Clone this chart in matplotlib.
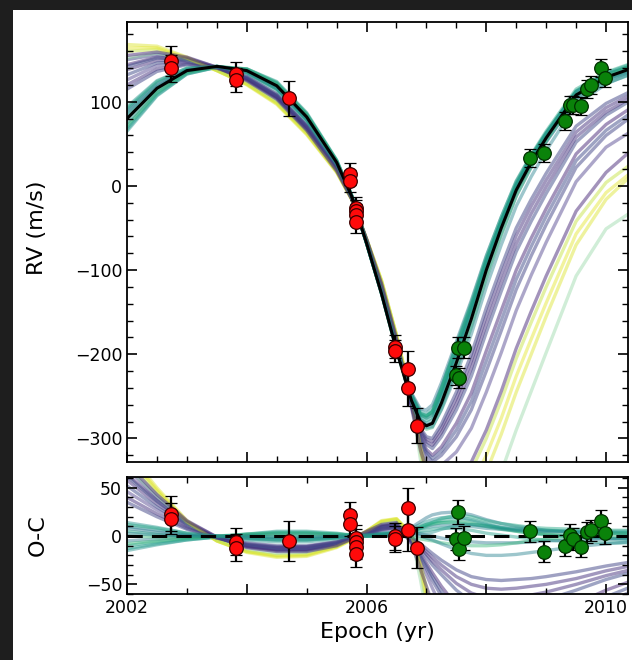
import numpy as np
import matplotlib
matplotlib.use("Agg")
import matplotlib.pyplot as plt
from matplotlib.ticker import MultipleLocator, FuncFormatter
from matplotlib.patches import Rectangle

epochs = [2002.0, 2002.5, 2003.0, 2003.5, 2004.0, 2004.5, 2005.0, 2005.5, 2005.75,
          2006.0, 2006.25, 2006.5, 2006.75, 2006.9, 2007.0, 2007.1, 2007.25, 2007.5,
          2007.75, 2008.0, 2008.25, 2008.5, 2008.75, 2009.0, 2009.5, 2010.0, 2010.4]

# best fit orbit (black line), m/s
model_rv = [80, 116, 137, 142, 137, 119, 82, 28, -12,
            -68, -128, -195, -255, -280, -285, -282, -258, -210,
            -158, -100, -50, -5, 28, 57, 108, 129, 139]

# posterior draws, stored as residuals (O-C) against the best fit
teal_oc = [
    [-15, -9, -4, -1, 2, 4, 4, 2, 1, 0, 1, 3, 8, 12, 15, 17, 19, 20, 17, 13, 9, 6, 4, 2, -1, -3, -4],
    [-10, -6, -3, -1, 1, 3, 3, 2, 1, 0, 1, 2, 6, 9, 12, 14, 16, 18, 16, 12, 8, 5, 3, 1, -1, -2, -3],
    [-5, -3, -1, 0, 1, 2, 2, 1, 0, 0, 1, 3, 9, 15, 19, 22, 24, 25, 22, 17, 13, 10, 8, 6, 4, 3, 2],
    [0, -1, -1, 0, 0, 0, 0, 0, 0, 0, 1, 2, 5, 8, 10, 12, 14, 15, 13, 10, 7, 5, 3, 2, 0, -1, -1],
    [5, 2, 0, -1, -1, -2, -2, -1, 0, 1, 2, 3, 6, 10, 12, 13, 14, 14, 12, 10, 8, 7, 6, 5, 4, 3, 3],
    [10, 6, 2, 0, -3, -4, -4, -2, 0, 1, 3, 4, 6, 8, 9, 10, 11, 11, 10, 8, 7, 6, 6, 5, 4, 4, 3],
    [14, 9, 3, -1, -4, -6, -6, -3, -1, 1, 3, 4, 4, 3, 3, 4, 7, 11, 12, 11, 9, 8, 7, 6, 5, 5, 5],
    [-13, -8, -4, -1, 2, 5, 5, 3, 1, 0, 0, 1, 3, 5, 6, 7, 8, 8, 6, 3, 1, -1, -3, -4, -6, -7, -7],
    [8, 4, 1, -1, -2, -3, -3, -1, 0, 1, 2, 3, 3, 2, 1, 0, -2, -5, -6, -7, -7, -7, -6, -5, -4, -3, -2],
    [-8, -5, -2, 0, 2, 3, 3, 2, 1, 0, 0, 0, -1, -3, -4, -5, -7, -9, -10, -10, -9, -7, -5, -3, 0, 2, 3],
    [12, 8, 3, 0, -2, -4, -4, -2, 0, 1, 2, 3, 5, 8, 11, 14, 18, 22, 20, 16, 13, 11, 9, 8, 7, 6, 6],
    [3, 1, 0, 0, 0, -1, -1, 0, 0, 0, 0, 1, 2, 0, -2, -4, -8, -14, -18, -20, -20, -19, -17, -15, -11, -8, -6],
]
purple_oc = [
    [58, 33, 12, -2, -10, -13, -13, -8, -3, 3, 9, 11, -2, -10, -16, -22, -30, -42, -50, -54, -55, -54, -52, -50, -44, -36, -31],
    [52, 30, 11, -2, -9, -12, -12, -7, -2, 3, 8, 10, -4, -14, -22, -30, -40, -56, -68, -74, -75, -73, -70, -66, -56, -45, -38],
    [64, 37, 14, -2, -11, -14, -14, -9, -3, 4, 10, 12, -5, -18, -28, -38, -52, -72, -88, -96, -98, -95, -90, -84, -70, -56, -47],
    [70, 40, 15, -1, -11, -15, -15, -9, -3, 4, 11, 13, -6, -22, -34, -46, -62, -88, -108, -120, -122, -118, -111, -103, -86, -69, -58],
    [46, 27, 10, -2, -9, -12, -11, -7, -2, 3, 7, 9, -6, -26, -40, -54, -74, -106, -130, -145, -148, -143, -134, -124, -103, -83, -75],
    [40, 23, 8, -2, -8, -11, -11, -6, -2, 2, 7, 9, -2, -12, -19, -26, -35, -49, -59, -64, -65, -64, -61, -58, -50, -41, -35],
    [62, 36, 13, -2, -10, -14, -14, -8, -3, 4, 10, 12, -5, -20, -31, -42, -57, -80, -98, -108, -110, -106, -100, -93, -78, -63, -53],
    [75, 43, 16, -1, -12, -16, -16, -10, -3, 5, 12, 14, -8, -34, -52, -70, -96, -138, -170, -190, -194, -188, -177, -164, -138, -113, -98],
    [35, 20, 7, -2, -7, -10, -10, -6, -2, 2, 6, 8, -1, -8, -13, -18, -25, -35, -42, -45, -46, -45, -44, -42, -37, -31, -27],
]
yellow_oc = [
    [88, 50, 16, -5, -17, -22, -21, -12, -4, 5, 16, 18, 2, -35, -70, -95, -130, -180, -215, -240, -245, -240, -228, -212, -178, -145, -128],
    [80, 46, 14, -5, -16, -20, -19, -11, -3, 5, 15, 17, 3, -25, -55, -75, -105, -150, -180, -200, -205, -200, -190, -177, -150, -125, -114],
    [72, 42, 13, -4, -14, -18, -17, -10, -3, 4, 13, 15, 0, -45, -80, -110, -150, -210, -250, -280, -290, -285, -272, -255, -215, -180, -171],
    [84, 48, 15, -5, -16, -21, -20, -11, -4, 5, 15, 18, 1, -30, -62, -85, -118, -165, -198, -220, -226, -221, -210, -196, -165, -137, -124],
]

# first data set (red)
red_t = [2002.73, 2002.73, 2003.82, 2003.82, 2004.70, 2005.72, 2005.72, 2005.83, 2005.83,
         2005.83, 2005.83, 2006.48, 2006.48, 2006.70, 2006.70, 2006.85]
red_rv = [148, 140, 133, 126, 104, 14, 6, -26, -30, -34, -43, -191, -196, -217, -240, -285]
red_oc = [23, 18, -6, -12, -5, 22, 13, -2, -6, -11, -19, 0, -3, 29, 6, -12]
red_err = [18, 16, 14, 14, 21, 13, 13, 13, 13, 13, 13, 14, 13, 21, 21, 21]

# second data set (green)
green_t = [2007.52, 2007.50, 2007.55, 2007.63, 2008.73, 2008.97, 2009.32, 2009.40, 2009.45,
           2009.58, 2009.68, 2009.75, 2009.92, 2009.98]
green_rv = [-192, -225, -228, -192, 33, 39, 77, 96, 96, 95, 115, 120, 140, 128]
green_oc = [25, -3, -13, -2, 5, -16, -10, 1, -3, -11, 4, 6, 16, 3]
green_err = [12, 11, 12, 12, 11, 11, 11, 11, 11, 11, 11, 11, 11, 11]

teal_cols = ["#21918c", "#1f9e89", "#2a788e", "#35b779", "#22a884", "#26828e"]
purple_cols = ["#46337e", "#3e4a89", "#482878", "#414487", "#5b4f95"]
yellow_cols = ["#d8e219", "#bddf26", "#8fd5a0", "#e2e418"]

t = np.array(epochs)
model = np.array(model_rv)

fig = plt.figure(figsize=(6.32, 6.60), dpi=100)
fig.patch.set_facecolor("#1e1e1e")
fig.patches.append(Rectangle((13 / 632, 0), 1, 1 - 10 / 660, transform=fig.transFigure,
                             facecolor="white", edgecolor="none", zorder=-10))

ax1 = fig.add_axes([0.201, 0.300, 0.793, 0.667])
ax2 = fig.add_axes([0.201, 0.100, 0.793, 0.177])

draws = []
for i, oc in enumerate(teal_oc):
    draws.append((oc, teal_cols[i % len(teal_cols)], 0.45))
for i, oc in enumerate(purple_oc):
    draws.append((oc, purple_cols[i % len(purple_cols)], 0.5))
for i, oc in enumerate(yellow_oc):
    draws.append((oc, yellow_cols[i], 0.42))
# mix the draw order so no family sits fully on top
order = [0, 12, 1, 21, 13, 2, 14, 3, 22, 15, 4, 16, 5, 23, 17, 6, 18, 7, 24, 19, 8, 20, 9, 10, 11]
for k in order:
    oc, col, a = draws[k]
    oc = np.array(oc)
    ax1.plot(t, model + oc, color=col, lw=2.4, alpha=a, zorder=1)
    ax2.plot(t, oc, color=col, lw=2.4, alpha=a, zorder=1)

ax1.plot(t, model, color="k", lw=2.2, zorder=3)
ax2.axhline(0, color="k", lw=2.2, ls=(0, (5, 3)), zorder=3)

ebkw = dict(fmt="o", ms=9.8, ecolor="k", elinewidth=1.6, capsize=4, capthick=1.6,
            mec="#3a0000", mew=0.9, zorder=4)
ax1.errorbar(red_t, red_rv, yerr=red_err, mfc="#ff0a0a", **ebkw)
ax2.errorbar(red_t, red_oc, yerr=red_err, mfc="#ff0a0a", **ebkw)
ebkw["mec"] = "#003000"
ax1.errorbar(green_t, green_rv, yerr=green_err, mfc="#0a820a", **ebkw)
ax2.errorbar(green_t, green_oc, yerr=green_err, mfc="#0a820a", **ebkw)

for ax in (ax1, ax2):
    ax.set_xlim(2002, 2010.37)
    ax.xaxis.set_major_locator(MultipleLocator(2))
    ax.tick_params(which="both", direction="in", top=True, right=True, labelsize=12.5)
    ax.tick_params(which="major", length=7, width=1.2)
    ax.tick_params(which="minor", length=4, width=1.0)
    for s in ax.spines.values():
        s.set_linewidth(1.3)

ax1.set_ylim(-328, 195)
ax1.yaxis.set_major_locator(MultipleLocator(100))
ax1.yaxis.set_minor_locator(MultipleLocator(20))
ax1.xaxis.set_minor_locator(MultipleLocator(0.5))
ax1.tick_params(labelbottom=False)
ax1.set_ylabel("RV (m/s)", fontsize=16)
ax1.yaxis.set_label_coords(-0.159, 0.532)

ax2.set_ylim(-60, 61)
ax2.yaxis.set_major_locator(MultipleLocator(50))
ax2.yaxis.set_minor_locator(MultipleLocator(10))
ax2.xaxis.set_minor_locator(MultipleLocator(1))
ax2.xaxis.set_major_formatter(FuncFormatter(lambda v, p: f"{v:.0f}" if round(v) % 4 == 2 else ""))
ax2.set_ylabel("O-C", fontsize=16)
ax2.yaxis.set_label_coords(-0.159, 0.5)
ax2.set_xlabel("Epoch (yr)", fontsize=16)

fig.savefig("out.png", dpi=100, facecolor=fig.get_facecolor())
